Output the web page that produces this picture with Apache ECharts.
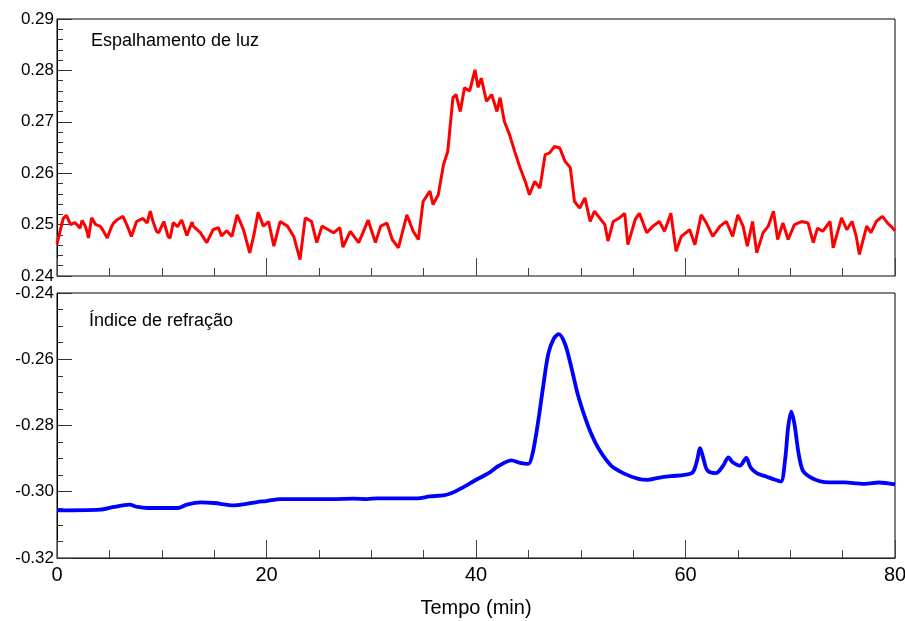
<!DOCTYPE html>
<html>
<head>
<meta charset="utf-8">
<script src="https://cdn.jsdelivr.net/npm/echarts@6/dist/echarts.min.js"></script>
<style>
    html, body { margin: 0; padding: 0; background: #fff; }
    #chart { width: 905px; height: 621px; }
</style>
</head>
<body>
<div id="chart"></div>
<script>
// espalhamento de luz (vermelho)
const lsTime = [0, 0.3, 0.6, 0.9, 1.3, 1.7, 1.9, 2.2, 2.4, 2.7, 2.9, 3.0, 3.3, 3.7, 4.1, 4.3, 4.8, 5.2, 5.4, 5.7, 6.3, 6.7, 7.1, 7.6, 8.2, 8.6,
    8.9, 9.2, 9.5, 9.7, 10.2, 10.6, 10.8, 11.1, 11.5, 11.9, 12.4, 12.9, 13.0, 13.5, 13.7, 14.3, 14.9, 15.4, 15.6, 15.7, 16.2, 16.7, 17.2, 17.6, 17.8, 18.4, 18.8, 19.2,
    19.7, 20.2, 20.7, 21.3, 22.0, 22.6, 23.2, 23.7, 24.3, 24.8, 25.3, 25.9, 26.4, 27.0, 27.3, 28.0, 28.8, 29.2, 29.7, 30.4,
    30.9, 31.5, 32.0, 32.6, 33.4, 34.0, 34.5, 34.95, 35.6, 35.9, 36.4, 36.9, 37.3, 37.8, 38.1, 38.5, 38.9, 39.4, 39.9, 40.2,
    40.5, 41.0, 41.5, 42.0, 42.3, 42.7, 43.2, 43.7, 44.2, 44.7, 45.1, 45.6, 46.1, 46.6, 47.0, 47.5, 48.0, 48.5, 49.0, 49.4,
    49.9, 50.4, 50.9, 51.3, 51.8, 52.3, 52.6, 53.1, 53.7, 54.2, 54.5, 55.2, 55.6, 56.3, 56.9, 57.5, 58.0, 58.6, 59.1, 59.6,
    60.4, 60.9, 61.5, 62.0, 62.6, 63.3, 63.9, 64.5, 65.0, 65.5, 65.9, 66.4, 66.8, 67.4, 67.9, 68.4, 68.8, 69.3, 69.8, 70.4,
    71.1, 71.7, 72.2, 72.6, 73.1, 73.8, 74.1, 74.9, 75.4, 75.9, 76.3, 76.6, 77.3, 77.7, 78.2, 78.8, 79.3, 79.8, 80.0]
const lsValue = [0.2462, 0.2488, 0.2512, 0.2518, 0.2500, 0.2504, 0.2500, 0.2493, 0.2508, 0.2497, 0.2484, 0.2474, 0.2513, 0.2500, 0.2497, 0.2492, 0.2474, 0.2496, 0.2503, 0.2509, 0.2516, 0.2498, 0.2477, 0.2506, 0.2512, 0.2503,
    0.2526, 0.2504, 0.2487, 0.2484, 0.2506, 0.2477, 0.2474, 0.2504, 0.2496, 0.2509, 0.2479, 0.2505, 0.2497, 0.2488, 0.2484, 0.2465, 0.2490, 0.2494, 0.2484, 0.2478, 0.2488, 0.2477, 0.2519, 0.2500, 0.2490, 0.2445, 0.2480, 0.2524,
    0.2497, 0.2506, 0.2458, 0.2506, 0.2497, 0.2477, 0.2432, 0.2513, 0.2506, 0.2465, 0.2497, 0.2490, 0.2484, 0.2494, 0.2456, 0.2487, 0.2465, 0.2484, 0.2509, 0.2465,
    0.2497, 0.2503, 0.2471, 0.2455, 0.2519, 0.2487, 0.2471, 0.2545, 0.2565, 0.2539, 0.2558, 0.2617, 0.2642, 0.2747, 0.2753, 0.2720, 0.2766, 0.2760, 0.2801, 0.2767,
    0.2785, 0.2740, 0.2753, 0.2720, 0.2747, 0.2701, 0.2675, 0.2642, 0.2611, 0.2584, 0.2558, 0.2584, 0.2571, 0.2636, 0.2639, 0.2652, 0.2649, 0.2623, 0.2611, 0.2545,
    0.2532, 0.2552, 0.2506, 0.2526, 0.2513, 0.2500, 0.2468, 0.2506, 0.2513, 0.2522, 0.2461, 0.2510, 0.2522, 0.2484, 0.2497, 0.2506, 0.2487, 0.2522, 0.2448, 0.2477,
    0.2490, 0.2461, 0.2519, 0.2503, 0.2477, 0.2497, 0.2506, 0.2477, 0.2519, 0.2497, 0.2458, 0.2506, 0.2445, 0.2484, 0.2497, 0.2526, 0.2471, 0.2503, 0.2471, 0.2500,
    0.2506, 0.2503, 0.2465, 0.2493, 0.2487, 0.2506, 0.2455, 0.2513, 0.2490, 0.2506, 0.2477, 0.2442, 0.2497, 0.2484, 0.2506, 0.2516, 0.2503, 0.2493, 0.2488]

// índice de refração (azul)
const riTime = [0, 4.1, 5.4, 6.9, 7.7, 8.6, 11.5, 12.4, 13.7, 15.0, 16.9, 17.8, 19.1, 20.0, 21.3, 23.2, 26.4, 28.3, 29.6, 30.6,
    34.4, 35.6, 36.9, 37.8, 38.5, 39.9, 41.2, 42.1, 43.4, 44.2, 45.0, 45.4, 45.9, 46.4, 46.9, 47.4, 47.9, 48.5, 49.1, 49.7,
    50.4, 51.0, 51.8, 52.9, 54.2, 55.5, 56.4, 57.4, 58.6, 59.9, 60.7, 61.1, 61.4, 61.7, 62.1, 62.9, 63.6, 64.1, 64.5, 65.2,
    65.8, 66.2, 66.8, 67.7, 68.5, 69.1, 69.5, 69.8, 70.1, 70.4, 70.8, 71.2, 71.9, 72.6, 73.3, 75.2, 77.1, 78.5, 80.0]
const riValue = [-0.3056, -0.3054, -0.3046, -0.3039, -0.3046, -0.3049, -0.3049, -0.3039, -0.3032, -0.3034, -0.3041, -0.3038, -0.3031, -0.3028, -0.3022, -0.3022, -0.3022, -0.3021, -0.3022, -0.3020,
    -0.3020, -0.3014, -0.3011, -0.3002, -0.2991, -0.2966, -0.2944, -0.2923, -0.2905, -0.2913, -0.2916, -0.2885, -0.2795, -0.2685, -0.2584, -0.2539, -0.2524, -0.2554, -0.2624, -0.2704,
    -0.2775, -0.2825, -0.2875, -0.2921, -0.2946, -0.2961, -0.2964, -0.2958, -0.2953, -0.2949, -0.2941, -0.2906, -0.2868, -0.2899, -0.2936, -0.2944, -0.2921, -0.2896, -0.2911, -0.2921,
    -0.2898, -0.2926, -0.2944, -0.2954, -0.2963, -0.2969, -0.2906, -0.2805, -0.2758, -0.2795, -0.2885, -0.2936, -0.2956, -0.2966, -0.2971, -0.2972, -0.2976, -0.2972, -0.2978]

const xTicks = [0, 20, 40, 60, 80]
const topLabel = 'Espalhamento de luz'
const bottomLabel = 'Índice de refração'
const xName = 'Tempo (min)'

const font = 'Arial, "Liberation Sans", sans-serif'
const chart = echarts.init(document.getElementById('chart'))

function xAxisCfg(gridIndex, showLabel, lineColor) {
    return {
        type: 'value',
        gridIndex,
        min: xTicks[0],
        max: xTicks[xTicks.length - 1],
        interval: 20,
        axisLine: { show: true, onZero: false, lineStyle: { color: lineColor, width: 1 } },
        axisTick: { show: true, inside: true, length: 18, lineStyle: { color: '#444' } },
        minorTick: { show: true, splitNumber: 4, length: 8, lineStyle: { color: '#444' } },
        splitLine: { show: false },
        axisLabel: {
            show: showLabel, color: '#000', fontSize: 20, fontFamily: font, margin: 7
        },
        name: showLabel ? xName : '',
        nameLocation: 'middle',
        nameGap: 40,
        nameTextStyle: { color: '#000', fontSize: 20, fontFamily: font }
    }
}

function yAxisCfg(gridIndex, min, max, interval, minorSplit) {
    return {
        type: 'value',
        gridIndex,
        min, max, interval,
        axisLine: { show: true, onZero: false, lineStyle: { color: '#000', width: 1 } },
        axisTick: { show: true, inside: true, length: 15, lineStyle: { color: '#333' } },
        minorTick: { show: true, splitNumber: minorSplit, length: 6, lineStyle: { color: '#333' } },
        splitLine: { show: false },
        axisLabel: {
            color: '#000', fontSize: 17, fontFamily: font, margin: 3,
            formatter: v => v.toFixed(2)
        }
    }
}

chart.setOption({
    animation: false,
    backgroundColor: '#fff',
    grid: [
        { left: 57, top: 19, width: 838, height: 257, show: true, borderColor: '#000', borderWidth: 1, outerBoundsMode: 'none' },
        { left: 57, top: 293, width: 838, height: 265, show: true, borderColor: '#000', borderWidth: 1, outerBoundsMode: 'none' }
    ],
    xAxis: [xAxisCfg(0, false, '#888'), xAxisCfg(1, true, '#222')],
    yAxis: [yAxisCfg(0, 0.24, 0.29, 0.01, 5), yAxisCfg(1, -0.32, -0.24, 0.02, 4)],
    graphic: [
        { type: 'text', left: 91, top: 32, style: { text: topLabel, fill: '#000', font: '18px ' + font } },
        { type: 'text', left: 89, top: 312, style: { text: bottomLabel, fill: '#000', font: '18px ' + font } }
    ],
    series: [
        {
            type: 'line', xAxisIndex: 0, yAxisIndex: 0, showSymbol: false,
            lineStyle: { color: '#ff0000', width: 3 },
            data: lsTime.map((t, i) => [t, lsValue[i]])
        },
        {
            type: 'line', xAxisIndex: 1, yAxisIndex: 1, showSymbol: false,
            smooth: 0.3,
            lineStyle: { color: '#0000ff', width: 3.8 },
            data: riTime.map((t, i) => [t, riValue[i]])
        }
    ]
})
</script>
</body>
</html>
